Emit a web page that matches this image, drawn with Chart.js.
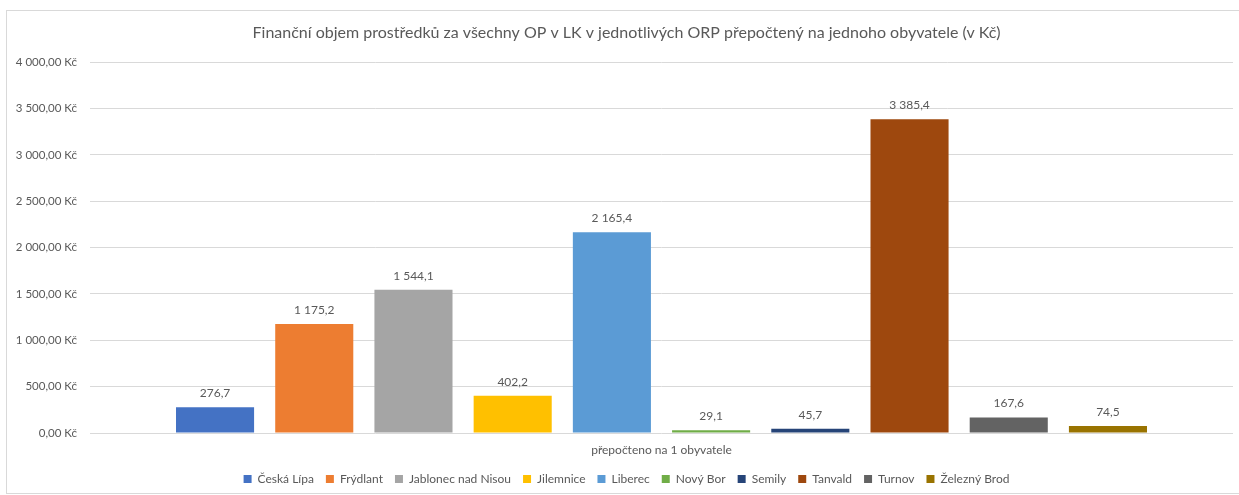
<!DOCTYPE html>
<html lang="cs">
<head>
<meta charset="utf-8">
<title>Finanční objem prostředků na jednoho obyvatele</title>
<script src="https://cdn.jsdelivr.net/npm/chart.js@4.4.1/dist/chart.umd.min.js"></script>
<style>
  html, body { margin: 0; padding: 0; background: #fff; overflow: hidden; }
  #wrap { width: 1253px; height: 495px; }
</style>
</head>
<body>
<div id="wrap"><canvas id="chart" width="1253" height="495"></canvas></div>
<script>
/* ---------- DATA ---------- */
const categories = ["přepočteno na 1 obyvatele"];
const towns = ["Česká Lípa", "Frýdlant", "Jablonec nad Nisou", "Jilemnice", "Liberec",
               "Nový Bor", "Semily", "Tanvald", "Turnov", "Železný Brod"];
const perCapita = [276.7, 1175.2, 1544.1, 402.2, 2165.4, 29.1, 45.7, 3385.4, 167.6, 74.5];
const townColors = ["#4472C4", "#ED7D31", "#A5A5A5", "#FFC000", "#5B9BD5",
                    "#70AD47", "#264478", "#9E480E", "#636363", "#997300"];
const yMin = 0, yMax = 4000, yStep = 500;

const TEXT = "#595959";
const FONT = "Lato";

/* ---------- FORMAT (cs: space thousands, comma decimals) ---------- */
function csNumber(v, decimals) {
  const parts = v.toFixed(decimals).split(".");
  parts[0] = parts[0].replace(/\B(?=(\d{3})+(?!\d))/g, " ");
  return parts.join(",");
}

/* ---------- PLUGINS ---------- */
const frame = {
  id: "frame",
  beforeDraw(chart) {
    const ctx = chart.ctx;
    ctx.save();
    ctx.fillStyle = "#fff";
    ctx.fillRect(0, 0, chart.width, chart.height);
    ctx.strokeStyle = "#D9D9D9";
    ctx.lineWidth = 1;
    ctx.strokeRect(6.5, 10.5, 1240, 483);
    ctx.restore();
  }
};

const barLabels = {
  id: "barLabels",
  afterDatasetsDraw(chart) {
    const ctx = chart.ctx;
    ctx.save();
    ctx.font = "12px " + FONT;
    ctx.fillStyle = TEXT;
    ctx.textAlign = "center";
    ctx.textBaseline = "bottom";
    chart.data.datasets.forEach((ds, i) => {
      const bar = chart.getDatasetMeta(i).data[0];
      ctx.fillText(csNumber(ds.data[0], 1), bar.x, bar.y - 8);
    });
    ctx.restore();
  }
};

/* ---------- CHART ---------- */
new Chart(document.getElementById("chart"), {
  type: "bar",
  data: {
    labels: categories,
    datasets: towns.map((t, i) => ({
      label: t,
      data: [perCapita[i]],
      backgroundColor: townColors[i],
      borderWidth: 0,
      categoryPercentage: 0.868,
      barPercentage: 0.787
    }))
  },
  options: {
    responsive: false,
    animation: false,
    devicePixelRatio: 1,
    layout: { padding: { top: 11, left: 7, right: 7, bottom: 0 } },
    plugins: {
      title: {
        display: true,
        text: "Finanční objem prostředků za všechny OP v LK v jednotlivých ORP přepočtený na jednoho obyvatele (v Kč)",
        color: TEXT,
        font: { family: FONT, size: 16, weight: "normal" },
        padding: { top: 12, bottom: 20 }
      },
      legend: {
        position: "bottom",
        labels: {
          color: TEXT,
          font: { family: FONT, size: 12 },
          boxWidth: 8,
          boxHeight: 8,
          padding: 12
        }
      },
      tooltip: { enabled: false }
    },
    scales: {
      x: {
        grid: { display: false, drawTicks: false },
        border: { display: false },
        ticks: { color: TEXT, font: { family: FONT, size: 12 }, padding: 10 },
        afterFit(scale) { scale.height = 28; }
      },
      y: {
        min: yMin,
        max: yMax,
        grid: { color: "#D9D9D9", drawTicks: false },
        border: { display: false },
        ticks: {
          stepSize: yStep,
          color: TEXT,
          font: { family: FONT, size: 11.5 },
          padding: 13,
          callback: v => csNumber(v, 2) + " Kč"
        },
        afterFit(scale) { scale.width = 83; }
      },
      pad: {
        type: "linear",
        position: "right",
        grid: { display: false },
        border: { display: false },
        ticks: { display: false },
        afterFit(scale) { scale.width = 13; }
      }
    }
  },
  plugins: [frame, barLabels]
});
</script>
</body>
</html>
